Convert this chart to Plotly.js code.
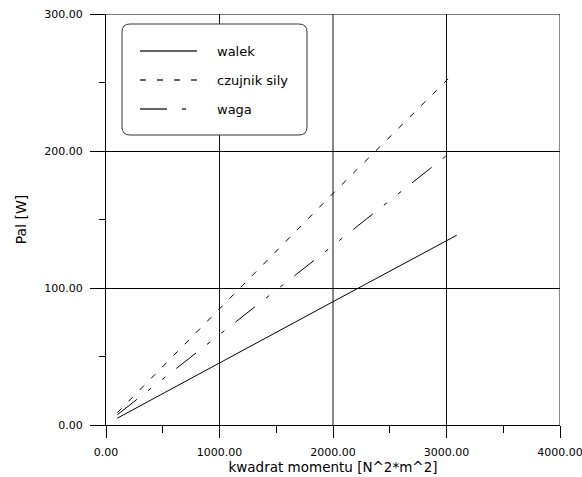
<!DOCTYPE html>
<html>
<head>
<meta charset="utf-8">
<script src="https://cdn.plot.ly/plotly-3.0.1.min.js"></script>
<style>html,body{margin:0;padding:0;background:#fff;}#chart{width:582px;height:477px;}</style>
</head>
<body>
<div id="chart"></div>
<script>
// Series
var seriesNames = ["walek", "czujnik sily", "waga"];
var walekX = [100, 1000, 2000, 3090];
var walekY = [5, 45.5, 90, 138.5];
var czujnikX = [100, 1000, 2000, 3030];
var czujnikY = [9, 85, 169, 254];
var wagaX = [100, 1000, 2000, 3020];
var wagaY = [7.5, 66, 131, 198];
var xGridVals = [1000, 2000, 3000, 4000];

var FONT = "DejaVu Sans, Verdana, sans-serif";
var dashes = ["solid", "6px,10px", "25px,14px,4px,14px,4px,14px"];
var legendDashes = ["solid", "6px,11px", "27px,15px,4px,15px"];

var traces = [
  {x: walekX, y: walekY, name: seriesNames[0]},
  {x: czujnikX, y: czujnikY, name: seriesNames[1]},
  {x: wagaX, y: wagaY, name: seriesNames[2]}
].map(function (t, i) {
  t.type = "scatter"; t.mode = "lines"; t.showlegend = false;
  t.line = {color: "#000", width: 1, dash: dashes[i]};
  return t;
});

// pixel -> paper helpers for the hand-drawn legend
var L = 106, R = 560, T = 14, B = 425;
function px(v) { return (v - L) / (R - L); }
function py(v) { return (B - v) / (B - T); }

var shapes = xGridVals.map(function (v) {
  return {type: "line", xref: "x", yref: "y", x0: v, x1: v, y0: 0, y1: 300,
          line: {color: "#111", width: 1}, layer: "below"};
});
// top frame line at y = 300
shapes.push({type: "line", xref: "paper", yref: "y", x0: 0, x1: 1, y0: 300, y1: 300,
             line: {color: "#7a7a7a", width: 2}, layer: "below"});

// rounded legend box
(function () {
  var x0 = px(122), x1 = px(307), y0 = py(135), y1 = py(24);
  var rx = 8 / (R - L), ry = 8 / (B - T);
  var p = "M" + (x0 + rx) + "," + y1 + " L" + (x1 - rx) + "," + y1 +
    " Q" + x1 + "," + y1 + " " + x1 + "," + (y1 - ry) +
    " L" + x1 + "," + (y0 + ry) +
    " Q" + x1 + "," + y0 + " " + (x1 - rx) + "," + y0 +
    " L" + (x0 + rx) + "," + y0 +
    " Q" + x0 + "," + y0 + " " + x0 + "," + (y0 + ry) +
    " L" + x0 + "," + (y1 - ry) +
    " Q" + x0 + "," + y1 + " " + (x0 + rx) + "," + y1 + " Z";
  shapes.push({type: "path", xref: "paper", yref: "paper", path: p,
               fillcolor: "#fff", line: {color: "#333", width: 1}});
})();

var rowsY = [51, 80, 109];
var annotations = [];
seriesNames.forEach(function (n, i) {
  shapes.push({type: "line", xref: "paper", yref: "paper",
               x0: px(140), x1: px(197), y0: py(rowsY[i]), y1: py(rowsY[i]),
               line: {color: "#333", width: 1.3, dash: legendDashes[i]}});
  annotations.push({xref: "paper", yref: "paper", x: px(215), y: py(rowsY[i]),
                    xanchor: "left", yanchor: "middle", showarrow: false, text: n,
                    font: {family: FONT, size: 13, color: "#000"}});
});

var layout = {
  width: 582, height: 477,
  margin: {l: L, r: 582 - R, t: T, b: 477 - B},
  paper_bgcolor: "#fff", plot_bgcolor: "#fff",
  font: {family: FONT, size: 11, color: "#000"},
  showlegend: false,
  xaxis: {
    range: [0, 4000], dtick: 1000, tick0: 0, tickformat: ".2f",
    showgrid: false, zeroline: false, showline: true, linecolor: "#000", linewidth: 1,
    ticks: "outside", ticklen: 12, tickcolor: "#000", tickwidth: 1,
    minor: {dtick: 500, ticks: "outside", ticklen: 7, tickcolor: "#000", showgrid: false},
    tickfont: {family: FONT, size: 11, color: "#000"},
    ticklabelstandoff: 5, ticklabeloverflow: "allow",
    title: {text: "kwadrat momentu [N^2*m^2]", font: {family: FONT, size: 13.5, color: "#000"}, standoff: 1},
    automargin: false
  },
  yaxis: {
    range: [0, 300], dtick: 100, tick0: 0, tickformat: ".2f",
    showgrid: true, gridcolor: "#000", gridwidth: 1, zeroline: false,
    showline: true, linecolor: "#000", linewidth: 1,
    ticks: "outside", ticklen: 15, tickcolor: "#000", tickwidth: 1,
    minor: {dtick: 50, ticks: "outside", ticklen: 6, tickcolor: "#000", showgrid: false},
    tickfont: {family: FONT, size: 11, color: "#000"},
    ticklabelstandoff: 5, ticklabeloverflow: "allow",
    title: {text: "Pal [W]", font: {family: FONT, size: 14, color: "#000"}, standoff: 14},
    automargin: false
  },
  shapes: shapes,
  annotations: annotations
};

Plotly.newPlot("chart", traces, layout, {displayModeBar: false, staticPlot: true});
</script>
</body>
</html>
